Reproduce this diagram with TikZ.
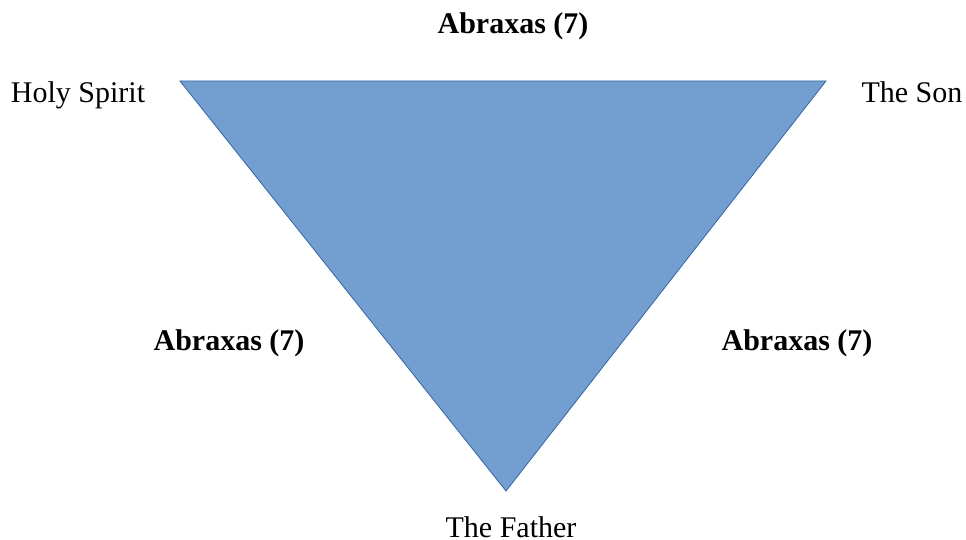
\documentclass[tikz,border=0pt]{standalone}
\usepackage{fontspec}
\setmainfont{Liberation Serif}
\usepackage{xcolor}
\usetikzlibrary{positioning}
\definecolor{trifill}{RGB}{114,159,207}
\definecolor{triline}{RGB}{52,101,164}

\begin{document}
\begin{tikzpicture}[x=1pt, y=-1pt,
  lbl/.style={inner sep=0pt, anchor=base, font=\fontsize{30}{36}\selectfont},
  abx/.style={lbl, font=\fontsize{30}{36}\selectfont\bfseries}]
\useasboundingbox (0,0) rectangle (966,540);
\coordinate (hs) at (180,81);
\coordinate (so) at (826,81);
\coordinate (fa) at (506,491);
\fill[trifill, draw=triline, line width=0.8pt] (hs) -- (so) -- (fa) -- cycle;
\node[lbl] (holy) at (78,103) {Holy Spirit};
\node[lbl] (son) at (912,103) {The Son};
\node[lbl] (father) at (511,537) {The Father};
\node[abx] (abtop) at (513,34) {Abraxas (7)};
\node[abx] (ableft) at (229,350) {Abraxas (7)};
\node[abx] (abright) at (797,350) {Abraxas (7)};
\end{tikzpicture}
\end{document}
